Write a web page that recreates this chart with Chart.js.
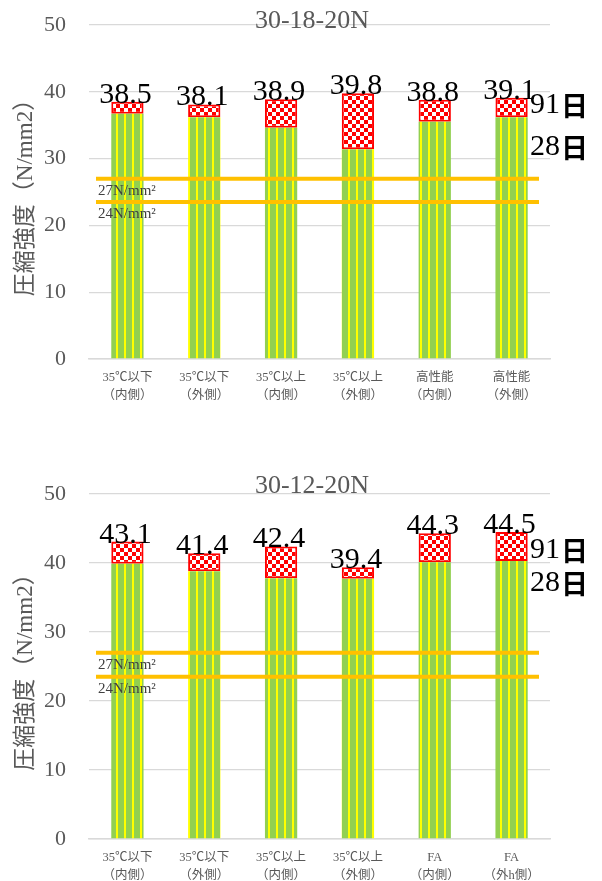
<!DOCTYPE html>
<html><head><meta charset="utf-8">
<script src="https://cdn.jsdelivr.net/npm/chart.js@4/dist/chart.umd.min.js"></script>
<style>
html,body{margin:0;padding:0;background:#fff;width:602px;height:881px;overflow:hidden}
.box{position:absolute;left:0;width:602px}
</style></head><body>
<div class="box" style="top:0;height:440px"><canvas id="c1"></canvas></div>
<div class="box" style="top:440px;height:441px"><canvas id="c2"></canvas></div>
<script>
// ---- data ----
const categoriesTop = [["35℃以下","（内側）"],["35℃以下","（外側）"],["35℃以上","（内側）"],["35℃以上","（外側）"],["高性能","（内側）"],["高性能","（外側）"]];
const categoriesBottom = [["35℃以下","（内側）"],["35℃以下","（外側）"],["35℃以上","（内側）"],["35℃以上","（外側）"],["FA","（内側）"],["FA","（外h側）"]];
const titleTop = "30-18-20N";
const titleBottom = "30-12-20N";
const day28Top = [36.7, 36.2, 34.6, 31.4, 35.5, 36.2];
const day91Top = [38.5, 38.1, 38.9, 39.8, 38.8, 39.1];
const day28Bottom = [39.9, 38.8, 37.8, 37.7, 40.1, 40.3];
const day91Bottom = [43.1, 41.4, 42.4, 39.4, 44.3, 44.5];
const refValues = [27, 23.5];
const refLabels = ["27N/mm²", "24N/mm²"];
const seriesNames = ["91日", "28日"];
const yAxisTitle = "圧縮強度（N/mm2）";
const yMin = 0, yMax = 50, yStep = 10;

// ---- patterns ----
function makePattern(draw){
  const c = document.createElement('canvas'); c.width = 8; c.height = 8;
  const g = c.getContext('2d'); draw(g);
  return g.createPattern(c, 'repeat');
}
const stripePattern = makePattern(g => {
  g.fillStyle = '#92D050'; g.fillRect(0,0,8,8);
  g.fillStyle = '#FFFF00'; g.fillRect(4,0,2,8);
});
const checkPattern = makePattern(g => {
  g.fillStyle = '#FF0000'; g.fillRect(0,0,8,8);
  g.fillStyle = '#FFFFFF'; g.fillRect(0,0,4,4); g.fillRect(4,4,4,4);
});

const SERIF = "'Liberation Serif','Noto Sans CJK JP'";

const decor = {
  id: 'decor',
  afterDatasetsDraw(chart, args, o) {
    const ctx = chart.ctx, a = chart.chartArea, y = chart.scales.y;
    ctx.save();
    refValues.forEach((v, i) => {
      const py = y.getPixelForValue(v);
      ctx.strokeStyle = '#FFC000'; ctx.lineWidth = 4;
      ctx.beginPath(); ctx.moveTo(a.left + 7, py); ctx.lineTo(a.right - 11, py); ctx.stroke();
      ctx.fillStyle = '#404040'; ctx.font = "15px " + SERIF;
      ctx.textAlign = 'left'; ctx.textBaseline = 'middle';
      ctx.fillText(refLabels[i], a.left + 9, py + 12);
    });
    const meta = chart.getDatasetMeta(1);
    ctx.fillStyle = '#000'; ctx.font = "30px " + SERIF;
    ctx.textAlign = 'center'; ctx.textBaseline = 'alphabetic';
    meta.data.forEach((el, i) => {
      ctx.fillText(o.totals[i].toFixed(1), el.x - 2, el.y + 1);
    });
    ctx.fillStyle = '#595959'; ctx.font = "26px " + SERIF;
    ctx.textAlign = 'center'; ctx.textBaseline = 'middle';
    ctx.fillText(o.title, 312, a.top + o.titleDy);
    ctx.textAlign = 'left'; ctx.fillStyle = '#000';
    seriesNames.forEach((s, i) => {
      const yy = a.top + o.legendY[i];
      const digits = s.slice(0, -1), kanji = s.slice(-1);
      ctx.font = "30px 'Liberation Serif'";
      ctx.fillText(digits, 530, yy);
      const w = ctx.measureText(digits).width;
      ctx.font = "bold 27px 'Noto Sans CJK JP'";
      ctx.fillText(kanji, 530 + w + 1, yy + 1);
    });
    ctx.restore();
  }
};

function build(id, cats, d28, d91, title, padTop, xHeight, titleDy, legendY) {
  const inc = d91.map((v, i) => +(v - d28[i]).toFixed(2));
  return new Chart(document.getElementById(id), {
    type: 'bar',
    data: {
      labels: cats,
      datasets: [
        { label: seriesNames[1], data: d28, backgroundColor: stripePattern, borderWidth: 0,
          stack: 's', categoryPercentage: 1, barPercentage: 0.42 },
        { label: seriesNames[0], data: inc, backgroundColor: checkPattern, borderColor: '#FF0000',
          borderWidth: 2, borderSkipped: false, stack: 's', categoryPercentage: 1, barPercentage: 0.42 }
      ]
    },
    options: {
      responsive: true, maintainAspectRatio: false, animation: false, devicePixelRatio: 1,
      layout: { padding: { top: padTop, right: 52, left: 0, bottom: 0 } },
      plugins: { legend: { display: false }, tooltip: { enabled: false },
                 decor: { totals: d91, title: title, titleDy: titleDy, legendY: legendY } },
      scales: {
        x: {
          stacked: true,
          grid: { display: false, drawTicks: false },
          border: { display: true, color: '#D9D9D9', width: 1.5 },
          ticks: { color: '#595959', font: { size: 12.5, family: SERIF, lineHeight: 1.4 },
                   padding: 10, maxRotation: 0, autoSkip: false },
          afterFit(s) { s.height = xHeight; }
        },
        y: {
          stacked: true, min: yMin, max: yMax,
          ticks: { stepSize: yStep, color: '#595959', font: { size: 22, family: SERIF }, padding: 23 },
          grid: { color: '#D9D9D9', lineWidth: 1.3, drawTicks: false },
          border: { display: false },
          title: { display: true, text: yAxisTitle, color: '#595959',
                   font: { size: 23, family: SERIF }, padding: { top: 12, bottom: 0 } },
          afterFit(s) { s.width = 89; s.paddingTop = 0; s.paddingBottom = 0; }
        }
      }
    },
    plugins: [decor]
  });
}

build('c1', categoriesTop, day28Top, day91Top, titleTop, 25, 81, -4, [80, 122]);
build('c2', categoriesBottom, day28Bottom, day91Bottom, titleBottom, 54, 42, -8, [56, 89]);
</script>
</body></html>
